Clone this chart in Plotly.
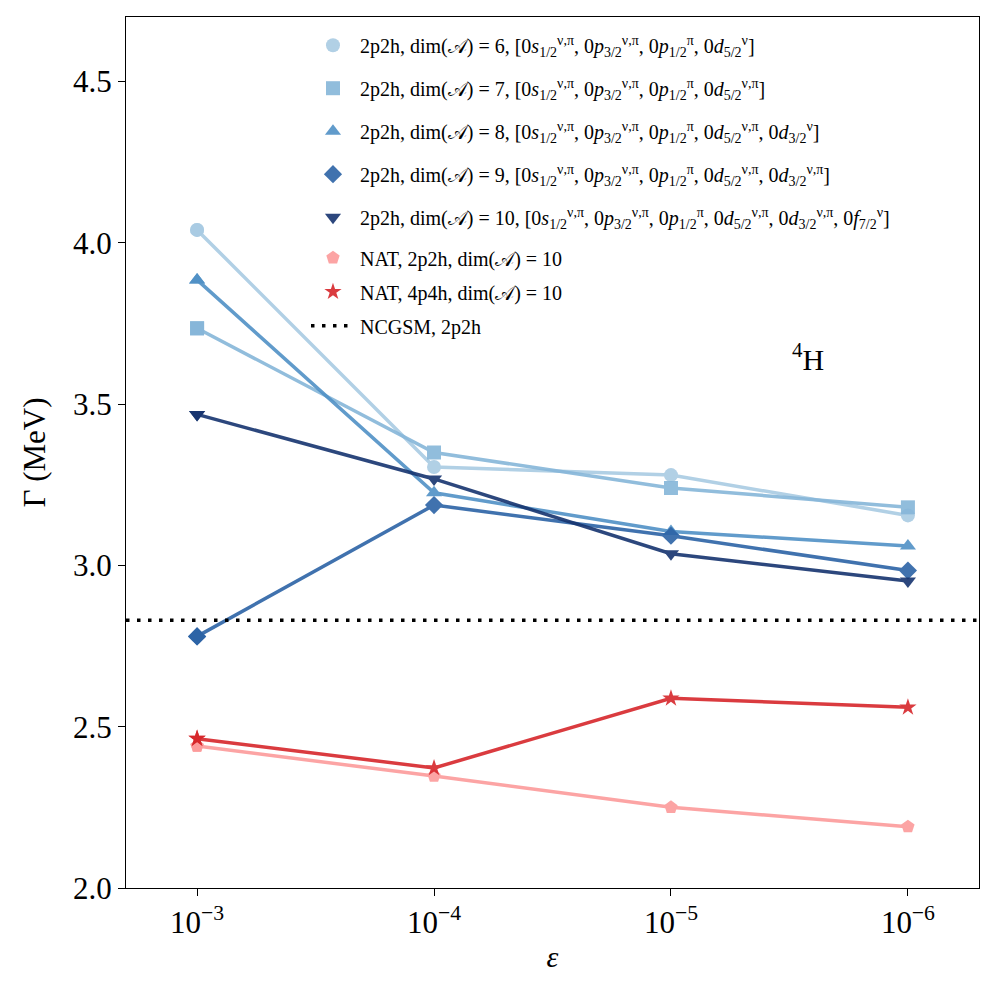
import plotly.graph_objects as go

eps_labels = ["10<sup>−3</sup>", "10<sup>−4</sup>", "10<sup>−5</sup>", "10<sup>−6</sup>"]
xi = [0, 1, 2, 3]

dim6 = [4.04, 3.305, 3.28, 3.155]
dim7 = [3.735, 3.35, 3.24, 3.18]
dim8 = [3.885, 3.225, 3.105, 3.06]
dim9 = [2.78, 3.187, 3.092, 2.984]
dim10 = [3.468, 3.268, 3.036, 2.952]
nat_2p2h = [2.44, 2.347, 2.25, 2.19]
nat_4p4h = [2.463, 2.372, 2.588, 2.56]
ncgsm = 2.83

S = "0<i>s</i><sub>1/2</sub><sup>ν,π</sup>"
P3 = "0<i>p</i><sub>3/2</sub><sup>ν,π</sup>"
P1 = "0<i>p</i><sub>1/2</sub><sup>π</sup>"
D5n = "0<i>d</i><sub>5/2</sub><sup>ν</sup>"
D5 = "0<i>d</i><sub>5/2</sub><sup>ν,π</sup>"
D3n = "0<i>d</i><sub>3/2</sub><sup>ν</sup>"
D3 = "0<i>d</i><sub>3/2</sub><sup>ν,π</sup>"
F7 = "0<i>f</i><sub>7/2</sub><sup>ν</sup>"
A = "dim(𝒜)"

series = [
    (dim6, f"2p2h, {A} = 6, [{S}, {P3}, {P1}, {D5n}]", "circle", "#a9cbe3", "legend"),
    (dim7, f"2p2h, {A} = 7, [{S}, {P3}, {P1}, {D5}]", "square", "#86b6d9", "legend"),
    (dim8, f"2p2h, {A} = 8, [{S}, {P3}, {P1}, {D5}, {D3n}]", "triangle-up", "#5091c6", "legend"),
    (dim9, f"2p2h, {A} = 9, [{S}, {P3}, {P1}, {D5}, {D3}]", "diamond", "#2c63a6", "legend"),
    (dim10, f"2p2h, {A} = 10, [{S}, {P3}, {P1}, {D5}, {D3}, {F7}]", "triangle-down", "#16346f", "legend"),
    (nat_2p2h, f"NAT, 2p2h, {A} = 10", "pentagon", "#fc9b9b", "legend2"),
    (nat_4p4h, f"NAT, 4p4h, {A} = 10", "star", "#d7262b", "legend2"),
]

fig = go.Figure()
for i, (vals, name, sym, col, lg) in enumerate(series):
    msize = 13 if sym == "star" else 14
    fig.add_trace(go.Scatter(
        x=xi, y=vals, mode="lines+markers", name=name,
        line=dict(color=col, width=3.5),
        marker=dict(symbol=sym, size=msize, color=col, line=dict(width=0)),
        opacity=0.9, showlegend=False,
    ))
    # legend entry (marker only), drawn on top of the first data point
    fig.add_trace(go.Scatter(
        x=[xi[0]], y=[vals[0]], mode="markers", name=name,
        marker=dict(symbol=sym, size=msize, color=col, line=dict(width=0)),
        opacity=0.9, legend=lg, legendgroup=f"g{i}", hoverinfo="skip",
    ))

fig.add_trace(go.Scatter(
    x=[-0.3, 3.3], y=[ncgsm, ncgsm], mode="lines", name="NCGSM, 2p2h",
    line=dict(color="black", width=3.5, dash="3.5px,7.5px"),
    legend="legend2", legendgroup="g7",
))

fig.add_annotation(x=2.58, y=3.645, text="<sup>4</sup>H", showarrow=False,
                   font=dict(size=30, color="black"))

axis_common = dict(showline=True, linecolor="black", linewidth=1.3, mirror=True,
                   ticks="outside", ticklen=7, tickwidth=1.2, tickcolor="black",
                   showgrid=False, zeroline=False)

fig.update_layout(
    width=997, height=997,
    paper_bgcolor="white", plot_bgcolor="white",
    font=dict(family="Liberation Serif", color="black", size=24),
    margin=dict(l=118, r=26, t=9, b=117),
    xaxis=dict(range=[-0.3, 3.3], tickvals=xi, ticktext=eps_labels,
               tickfont=dict(size=31),
               title=dict(text="<i>ε</i>", font=dict(size=30), standoff=6),
               **axis_common),
    yaxis=dict(range=[2.0, 4.7], tickvals=[2.0, 2.5, 3.0, 3.5, 4.0, 4.5],
               ticktext=["2.0", "2.5", "3.0", "3.5", "4.0", "4.5"],
               tickfont=dict(size=31),
               title=dict(text="Γ (MeV)", font=dict(size=31), standoff=18),
               **axis_common),
    legend=dict(x=0.211, y=0.99, xanchor="left", yanchor="top",
                bgcolor="rgba(0,0,0,0)", font=dict(size=20),
                tracegroupgap=14, itemwidth=44),
    legend2=dict(x=0.211, y=0.746, xanchor="left", yanchor="top",
                 bgcolor="rgba(0,0,0,0)", font=dict(size=20),
                 tracegroupgap=5, itemwidth=44),
    showlegend=True,
)

fig.write_html("out.html")
